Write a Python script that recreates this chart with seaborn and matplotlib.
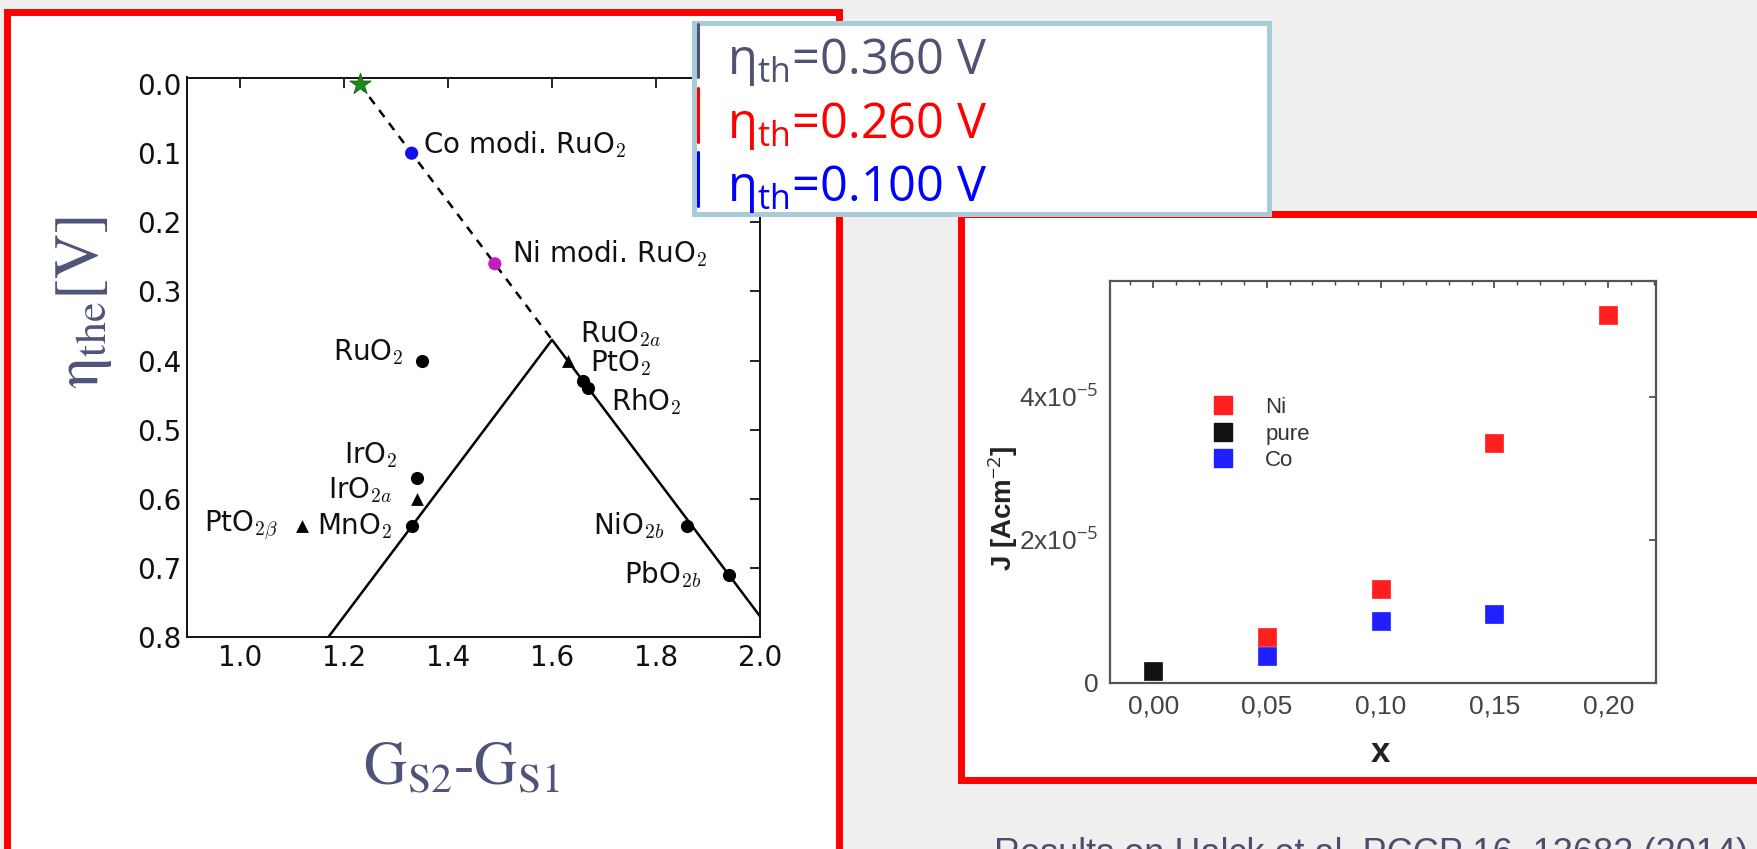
import matplotlib
matplotlib.use('Agg')
import matplotlib.pyplot as plt
import seaborn as sns
import numpy as np
import pandas as pd
from matplotlib.patches import Rectangle
from matplotlib.lines import Line2D
from matplotlib.ticker import FixedLocator, MultipleLocator, FixedFormatter

sns.set_theme(style='white')
plt.rcParams['font.family'] = ['DejaVu Sans']
plt.rcParams['mathtext.fontset'] = 'custom'
plt.rcParams['mathtext.rm'] = 'Open Sans'
plt.rcParams['mathtext.it'] = 'Open Sans:italic'
plt.rcParams['mathtext.bf'] = 'Open Sans:bold'

# ---------------- data: left volcano plot ----------------
circ_names = ['RuO$_2$', 'PtO$_2$', 'RhO$_2$', 'IrO$_2$', 'MnO$_2$', 'NiO$_{2b}$', 'PbO$_{2b}$']
circ_dg = [1.35, 1.66, 1.67, 1.34, 1.33, 1.86, 1.94]
circ_eta = [0.40, 0.43, 0.44, 0.57, 0.64, 0.64, 0.71]
tri_names = ['RuO$_{2a}$', 'IrO$_{2a}$', r'PtO$_{2\beta}$']
tri_dg = [1.63, 1.34, 1.12]
tri_eta = [0.40, 0.60, 0.64]
mod_names = ['Co modi. RuO$_2$', 'Ni modi. RuO$_2$']
mod_dg = [1.33, 1.49]
mod_eta = [0.10, 0.26]
mod_colors = ['#1010ee', '#c020c0']
star_dg = [1.23]
star_eta = [0.0]
volcano_dg = [1.17, 1.60, 2.00]
volcano_eta = [0.80, 0.37, 0.77]
ext_dg = [1.23, 1.60]
ext_eta = [0.00, 0.37]
left_xticks = [1.0, 1.2, 1.4, 1.6, 1.8, 2.0]
left_yticks = [0.0, 0.1, 0.2, 0.3, 0.4, 0.5, 0.6, 0.7, 0.8]

# ---------------- data: right J vs x plot ----------------
ni_x = [0.05, 0.10, 0.15, 0.20]
ni_j = [0.64e-5, 1.31e-5, 3.36e-5, 5.14e-5]
pure_x = [0.00]
pure_j = [0.17e-5]
co_x = [0.05, 0.10, 0.15]
co_j = [0.38e-5, 0.87e-5, 0.97e-5]
right_xticks = [0.00, 0.05, 0.10, 0.15, 0.20]
right_xticklabels = ['0,00', '0,05', '0,10', '0,15', '0,20']
right_yticks = [0.0, 2e-5, 4e-5]
right_yticklabels = ['0', '2x10$^{-5}$', '4x10$^{-5}$']

# threshold overpotential box
eta_texts = [r'$\mathrm{\eta_{th}}$=0.360 V', r'$\mathrm{\eta_{th}}$=0.260 V', r'$\mathrm{\eta_{th}}$=0.100 V']
eta_colors = ['#4f5272', '#ff0000', '#0000ff']

caption = 'Results on Halck et al. PCCP 16, 13682 (2014)'

# ---------------- layout ----------------
W, H = 1758, 849
fig = plt.figure(figsize=(W / 100, H / 100), dpi=100)
fig.patch.set_facecolor('#efefef')

def fx(px):
    return px / W

def fy(py):
    return 1 - py / H

# red frames (white inside)
fig.add_artist(Rectangle((fx(7.5), fy(870)), fx(839) - fx(7.5), fy(12) - fy(870),
                         transform=fig.transFigure, facecolor='white', edgecolor='#ff0000',
                         linewidth=5.0, zorder=-2))
fig.add_artist(Rectangle((fx(961), fy(780)), fx(1800) - fx(961), fy(213.5) - fy(780),
                         transform=fig.transFigure, facecolor='white', edgecolor='#ff0000',
                         linewidth=5.0, zorder=-2))

# ---------------- left axes ----------------
axL = fig.add_axes([fx(187), fy(637), fx(760) - fx(187), fy(77.5) - fy(637)])
axL.set_facecolor('white')
axL.plot(volcano_dg, volcano_eta, color='black', lw=1.8, zorder=2)
axL.plot(ext_dg, ext_eta, color='black', lw=1.8, ls=(0, (3.5, 3)), zorder=2)
sns.scatterplot(x=circ_dg, y=circ_eta, ax=axL, marker='o', s=90, color='black',
                edgecolor='black', linewidth=0, zorder=3, legend=False)
sns.scatterplot(x=tri_dg, y=tri_eta, ax=axL, marker='^', s=85, color='black',
                edgecolor='black', linewidth=0, zorder=3, legend=False)
sns.scatterplot(x=mod_dg, y=mod_eta, ax=axL, marker='o', s=90, hue=mod_names,
                palette=mod_colors, linewidth=0, zorder=3, legend=False)
sns.scatterplot(x=star_dg, y=star_eta, ax=axL, marker='*', s=260, color='#1a8a1a',
                edgecolor='#0f5f0f', linewidth=0.6, zorder=4, legend=False, clip_on=False)

axL.set_xlim(0.898, 2.0)
axL.set_ylim(0.80, -0.0095)
axL.xaxis.set_major_locator(FixedLocator(left_xticks))
axL.yaxis.set_major_locator(FixedLocator(left_yticks))
axL.xaxis.set_major_formatter(FixedFormatter([f'{v:.1f}' for v in left_xticks]))
axL.yaxis.set_major_formatter(FixedFormatter([f'{v:.1f}' for v in left_yticks]))
axL.tick_params(direction='in', length=7, width=1.3, top=True, right=True,
                labelsize=20, colors='#111111', pad=5)
axL.tick_params(axis='y', pad=4)
for sp in axL.spines.values():
    sp.set_color('#111111')
    sp.set_linewidth(1.4)

# in-plot labels (annotation positions in data units)
label_pos = {
    'Co modi. RuO$_2$': (1.351, 0.087, 'left'),
    'Ni modi. RuO$_2$': (1.523, 0.246, 'left'),
    'RuO$_2$': (1.315, 0.388, 'right'),
    'RuO$_{2a}$': (1.653, 0.362, 'left'),
    'PtO$_2$': (1.674, 0.404, 'left'),
    'RhO$_2$': (1.714, 0.459, 'left'),
    'IrO$_2$': (1.302, 0.537, 'right'),
    'IrO$_{2a}$': (1.292, 0.588, 'right'),
    'MnO$_2$': (1.292, 0.639, 'right'),
    r'PtO$_{2\beta}$': (1.072, 0.639, 'right'),
    'NiO$_{2b}$': (1.816, 0.639, 'right'),
    'PbO$_{2b}$': (1.888, 0.710, 'right'),
}
for name in mod_names + circ_names + tri_names:
    x, y, ha = label_pos[name]
    axL.text(x, y, name, ha=ha, va='center', fontsize=20, color='#111111',
             math_fontfamily='cm', zorder=5)

fig.text(fx(84), fy(303), r'$\mathrm{\eta_{the}[V]}$', rotation=90, ha='center', va='center',
         fontsize=45, color='#4e5479', math_fontfamily='stix')
fig.text(fx(461), fy(770), r'$\mathrm{G_{S2}}$-$\mathrm{G_{S1}}$', ha='center', va='center',
         fontsize=43, color='#4e5479', math_fontfamily='stix', fontfamily='Liberation Serif')

# ---------------- right axes ----------------
axR = fig.add_axes([fx(1110), fy(683), fx(1656) - fx(1110), fy(281.5) - fy(683)])
axR.set_facecolor('white')
sq = 165
sns.scatterplot(x=ni_x, y=ni_j, ax=axR, marker='s', s=sq, color='#ff1f1f', edgecolor='#ff1f1f',
                linewidth=0.5, legend=False, zorder=3)
sns.scatterplot(x=pure_x, y=pure_j, ax=axR, marker='s', s=sq, color='#111111', edgecolor='#111111',
                linewidth=0.5, legend=False, zorder=3)
sns.scatterplot(x=co_x, y=co_j, ax=axR, marker='s', s=sq, color='#1f1fff', edgecolor='#1f1fff',
                linewidth=0.5, legend=False, zorder=3)
axR.set_xlim(-0.019, 0.221)
axR.set_ylim(0, 5.615e-5)
axR.xaxis.set_major_locator(FixedLocator(right_xticks))
axR.xaxis.set_major_formatter(FixedFormatter(right_xticklabels))
axR.xaxis.set_minor_locator(MultipleLocator(0.01))
axR.yaxis.set_major_locator(FixedLocator(right_yticks))
axR.yaxis.set_major_formatter(FixedFormatter(right_yticklabels))
axR.tick_params(which='both', direction='in', top=True, right=True, colors='#444444')
axR.tick_params(which='major', length=5, width=1.2, labelsize=19, pad=8)
axR.tick_params(which='minor', length=3, width=1.0)
axR.minorticks_on()
axR.yaxis.set_minor_locator(FixedLocator([]))
for lab in axR.get_xticklabels() + axR.get_yticklabels():
    lab.set_fontfamily('Liberation Sans')
    lab.set_color('#444444')
for sp in axR.spines.values():
    sp.set_color('#555555')
    sp.set_linewidth(1.6)

handles = [Line2D([], [], ls='none', marker='s', markersize=13, color=c, markeredgecolor=c)
           for c in ['#ff1f1f', '#111111', '#1f1fff']]
leg = axR.legend(handles, ['Ni', 'pure', 'Co'], loc='upper left',
                 bbox_to_anchor=((1212 - 1110) / 546, (683 - 397) / 401.5),
                 frameon=False, handlelength=1.0, handletextpad=1.4,
                 labelspacing=0.25, borderpad=0, borderaxespad=0,
                 prop={'family': 'Liberation Sans', 'size': 16})
for t in leg.get_texts():
    t.set_color('#333333')

fig.text(fx(1003), fy(508), 'J [Acm$^{-2}$]', rotation=90, ha='center', va='center',
         fontsize=20, fontweight='bold', fontfamily='Liberation Sans', color='#222222')
fig.text(fx(1380), fy(752), 'x', ha='center', va='center', fontsize=25,
         fontweight='bold', fontfamily='Liberation Sans', color='#222222')

# ---------------- threshold box ----------------
fig.add_artist(Rectangle((fx(694.5), fy(214)), fx(1269) - fx(694.5), fy(23.5) - fy(214),
                         transform=fig.transFigure, facecolor='white', edgecolor='#a9cbd8',
                         linewidth=3.6, zorder=10))
bar_spans = [(24, 77), (88, 142), (152, 206)]
baselines = [74, 138, 201]
for txt, col, (y0, y1), yb in zip(eta_texts, eta_colors, bar_spans, baselines):
    fig.add_artist(Line2D([fx(698.5), fx(698.5)], [fy(y0), fy(y1)], transform=fig.transFigure,
                          color=col, lw=2.2, zorder=11))
    fig.text(fx(727), fy(yb), txt, ha='left', va='baseline', fontsize=35, color=col,
             fontfamily='Open Sans', zorder=12)

# caption (clipped by slide bottom, as on the original slide)
fig.text(fx(994), fy(864), caption, ha='left', va='baseline', fontsize=26,
         fontfamily='Liberation Sans', color='#4b4f6e')

fig.savefig('out.png', dpi=100, facecolor=fig.get_facecolor())
